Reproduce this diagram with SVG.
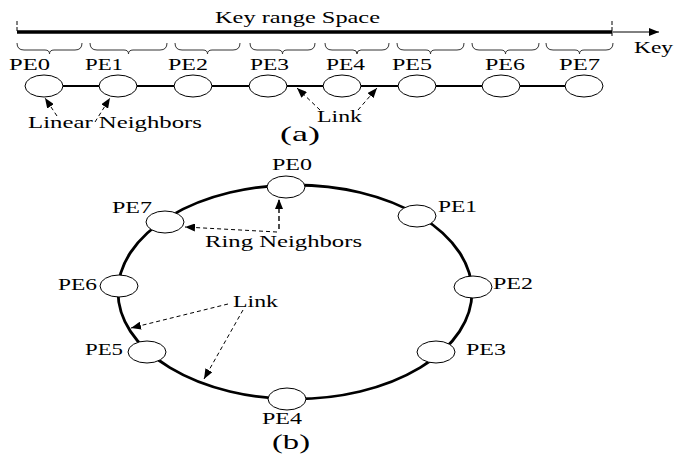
<svg xmlns="http://www.w3.org/2000/svg" width="684" height="454" viewBox="0 0 684 454" font-family="'Liberation Serif', 'DejaVu Serif', serif">
  <style>
    text { font-family: 'Liberation Serif', 'DejaVu Serif', serif; font-size: 17px; fill: #000; }
    .cap { font-size: 21px; }
    .node { fill: #fff; stroke: #000; stroke-width: 1; }
    .brace { fill: none; stroke: #333; stroke-width: 1; }
    .dash { fill: none; stroke: #000; stroke-width: 1; stroke-dasharray: 4 3; }
    .dashb { fill: none; stroke: #000; stroke-width: 1.4; stroke-dasharray: 5 3; }
  </style>
  <defs>
    <marker id="tri" viewBox="0 0 10 8" refX="10" refY="4" markerWidth="10" markerHeight="8" markerUnits="userSpaceOnUse" orient="auto">
      <path d="M0,0 L10,4 L0,8 Z" fill="#000"/>
    </marker>
  </defs>
  <rect width="684" height="454" fill="#fff"/>

  <!-- (a) linear key range -->
  <g id="key-axis">
    <line x1="17" y1="21" x2="17" y2="32" stroke="#000" stroke-width="1" stroke-dasharray="4 2"/>
    <line x1="612" y1="21" x2="612" y2="36" stroke="#000" stroke-width="1" stroke-dasharray="4 2"/>
    <line x1="17" y1="32" x2="612" y2="32" stroke="#000" stroke-width="3.6"/>
    <line x1="612" y1="32" x2="659" y2="32" stroke="#000" stroke-width="1" marker-end="url(#tri)"/>
    <text x="215" y="23" textLength="165" lengthAdjust="spacingAndGlyphs">Key range Space</text>
    <text x="634" y="53" textLength="39" lengthAdjust="spacingAndGlyphs">Key</text>
  </g>

  <g id="ranges">
    <path class="brace" d="M17,43 Q17,50 24,50 L45,50 Q49.5,50 49.5,54 Q49.5,50 54,50 L75,50 Q82,50 82,43"/>
    <path class="brace" d="M90,43 Q90,50 97,50 L124,50 Q128.5,50 128.5,54 Q128.5,50 133,50 L160,50 Q167,50 167,43"/>
    <path class="brace" d="M175,43 Q175,50 182,50 L203,50 Q207.5,50 207.5,54 Q207.5,50 212,50 L233,50 Q240,50 240,43"/>
    <path class="brace" d="M250,43 Q250,50 257,50 L278,50 Q282.5,50 282.5,54 Q282.5,50 287,50 L308,50 Q315,50 315,43"/>
    <path class="brace" d="M325,43 Q325,50 332,50 L353,50 Q357,50 357,54 Q357,50 361,50 L382,50 Q389,50 389,43"/>
    <path class="brace" d="M397,43 Q397,50 404,50 L426,50 Q430.5,50 430.5,54 Q430.5,50 435,50 L457,50 Q464,50 464,43"/>
    <path class="brace" d="M472,43 Q472,50 479,50 L501,50 Q505.5,50 505.5,54 Q505.5,50 510,50 L532,50 Q539,50 539,43"/>
    <path class="brace" d="M546,43 Q546,50 553,50 L575,50 Q579.5,50 579.5,54 Q579.5,50 584,50 L606,50 Q613,50 613,43"/>
  </g>

  <g id="linear-connectors">
    <line x1="44" y1="86" x2="585" y2="86" stroke="#000" stroke-width="2"/>
    <line class="dash" x1="57" y1="116" x2="45" y2="98" marker-end="url(#tri)"/>
    <line class="dash" x1="95" y1="122" x2="110" y2="98" marker-end="url(#tri)"/>
    <line class="dash" x1="320" y1="110" x2="297" y2="88" marker-end="url(#tri)"/>
    <line class="dash" x1="358" y1="110" x2="377" y2="88" marker-end="url(#tri)"/>
  </g>

  <g id="lin-pe0"><ellipse class="node" cx="44" cy="86" rx="19" ry="11"/><text x="9" y="70" textLength="41" lengthAdjust="spacingAndGlyphs">PE0</text></g>
  <g id="lin-pe1"><ellipse class="node" cx="118" cy="86" rx="19" ry="11"/><text x="85" y="70" textLength="38" lengthAdjust="spacingAndGlyphs">PE1</text></g>
  <g id="lin-pe2"><ellipse class="node" cx="193" cy="86" rx="19" ry="11"/><text x="168" y="70" textLength="40" lengthAdjust="spacingAndGlyphs">PE2</text></g>
  <g id="lin-pe3"><ellipse class="node" cx="268" cy="86" rx="19" ry="11"/><text x="250" y="70" textLength="39" lengthAdjust="spacingAndGlyphs">PE3</text></g>
  <g id="lin-pe4"><ellipse class="node" cx="342" cy="86" rx="19" ry="11"/><text x="326" y="70" textLength="39" lengthAdjust="spacingAndGlyphs">PE4</text></g>
  <g id="lin-pe5"><ellipse class="node" cx="417" cy="86" rx="19" ry="11"/><text x="392" y="70" textLength="40" lengthAdjust="spacingAndGlyphs">PE5</text></g>
  <g id="lin-pe6"><ellipse class="node" cx="501" cy="86" rx="19" ry="11"/><text x="485" y="70" textLength="40" lengthAdjust="spacingAndGlyphs">PE6</text></g>
  <g id="lin-pe7"><ellipse class="node" cx="584" cy="86" rx="19" ry="11"/><text x="559" y="70" textLength="41" lengthAdjust="spacingAndGlyphs">PE7</text></g>

  <g id="linear-labels">
    <text x="28" y="128" textLength="174" lengthAdjust="spacingAndGlyphs">Linear Neighbors</text>
    <text x="317" y="122" textLength="45" lengthAdjust="spacingAndGlyphs">Link</text>
    <text class="cap" x="280" y="141" textLength="40" lengthAdjust="spacingAndGlyphs">(a)</text>
  </g>

  <!-- (b) ring -->
  <g id="ring-connectors">
    <ellipse cx="295" cy="292" rx="177" ry="107" fill="none" stroke="#000" stroke-width="2.8"/>
    <line class="dashb" x1="279" y1="229" x2="279" y2="199" marker-end="url(#tri)"/>
    <line class="dash" x1="277" y1="232" x2="185" y2="227" marker-end="url(#tri)"/>
    <line class="dash" x1="228" y1="304" x2="131" y2="328" marker-end="url(#tri)"/>
    <line class="dash" x1="243" y1="310" x2="204" y2="379" marker-end="url(#tri)"/>
  </g>

  <g id="ring-pe0"><ellipse class="node" cx="286" cy="187" rx="19" ry="11"/><text x="272" y="170" textLength="40" lengthAdjust="spacingAndGlyphs">PE0</text></g>
  <g id="ring-pe1"><ellipse class="node" cx="417" cy="216" rx="19" ry="11"/><text x="438" y="212" textLength="39" lengthAdjust="spacingAndGlyphs">PE1</text></g>
  <g id="ring-pe2"><ellipse class="node" cx="473" cy="287" rx="19" ry="11"/><text x="493" y="289" textLength="40" lengthAdjust="spacingAndGlyphs">PE2</text></g>
  <g id="ring-pe3"><ellipse class="node" cx="436" cy="352" rx="19" ry="11"/><text x="466" y="355" textLength="40" lengthAdjust="spacingAndGlyphs">PE3</text></g>
  <g id="ring-pe4"><ellipse class="node" cx="287" cy="399" rx="19" ry="11"/><text x="262" y="424" textLength="40" lengthAdjust="spacingAndGlyphs">PE4</text></g>
  <g id="ring-pe5"><ellipse class="node" cx="147" cy="352" rx="19" ry="11"/><text x="85" y="355" textLength="38" lengthAdjust="spacingAndGlyphs">PE5</text></g>
  <g id="ring-pe6"><ellipse class="node" cx="119" cy="286" rx="19" ry="11"/><text x="58" y="290" textLength="39" lengthAdjust="spacingAndGlyphs">PE6</text></g>
  <g id="ring-pe7"><ellipse class="node" cx="165" cy="222" rx="19" ry="11"/><text x="112" y="213" textLength="40" lengthAdjust="spacingAndGlyphs">PE7</text></g>

  <g id="ring-labels">
    <text x="205" y="247" textLength="157" lengthAdjust="spacingAndGlyphs">Ring Neighbors</text>
    <text x="233" y="307" textLength="45" lengthAdjust="spacingAndGlyphs">Link</text>
    <text class="cap" x="272" y="449" textLength="38" lengthAdjust="spacingAndGlyphs">(b)</text>
  </g>
</svg>
